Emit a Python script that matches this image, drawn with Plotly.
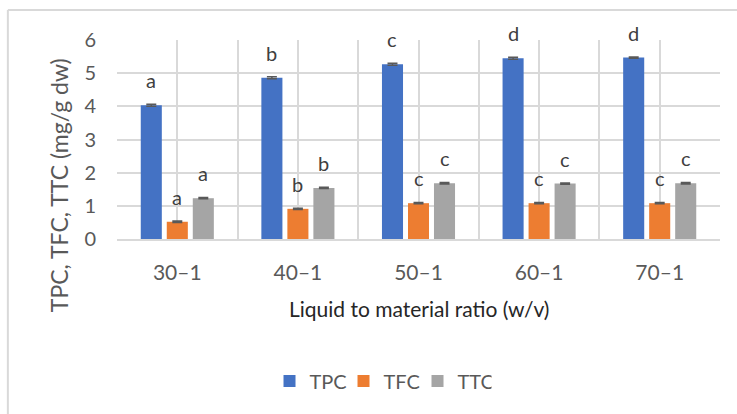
import plotly.graph_objects as go

# Extraction yield by liquid-to-material ratio
categories = ["30–1", "40–1", "50–1", "60–1", "70–1"]
tpc = [4.03, 4.86, 5.27, 5.45, 5.47]
tfc = [0.52, 0.91, 1.08, 1.08, 1.08]
ttc = [1.23, 1.54, 1.68, 1.67, 1.68]
tpc_err = [0.03, 0.03, 0.03, 0.03, 0.02]
tfc_err = [0.02, 0.02, 0.02, 0.02, 0.02]
ttc_err = [0.02, 0.02, 0.02, 0.02, 0.02]
tpc_letters = ["a", "b", "c", "d", "d"]
tfc_letters = ["a", "b", "c", "c", "c"]
ttc_letters = ["a", "b", "c", "c", "c"]

series = [
    ("TPC", tpc, tpc_err, tpc_letters, "#4472C4"),
    ("TFC", tfc, tfc_err, tfc_letters, "#ED7D31"),
    ("TTC", ttc, ttc_err, ttc_letters, "#A5A5A5"),
]

FONT = "Lato"
TEXT = "#595959"
GRID = "#D9D9D9"
BARGAP = 0.353
GROUPGAP = 0.19

xpos = list(range(len(categories)))
slot = (1 - BARGAP) / len(series)

fig = go.Figure()
annotations = []
for k, (name, vals, errs, letters, color) in enumerate(series):
    fig.add_trace(go.Bar(
        name=name, x=xpos, y=vals, marker_color=color, marker_line_width=0,
        error_y=dict(type="data", array=errs, visible=True,
                     color="#595959", thickness=1.5, width=5),
    ))
    # significance letters sit just above each bar of the group
    off = (k - (len(series) - 1) / 2) * slot
    for i, (v, lab) in enumerate(zip(vals, letters)):
        annotations.append(dict(
            x=i + off, y=v, xref="x", yref="y", text=lab, showarrow=False,
            yanchor="middle", yshift=25,
            font=dict(family=FONT, size=20, color="#404040")))

# Axis titles
annotations.append(dict(
    x=-0.096, y=0.271, xref="paper", yref="paper",
    text="TPC, TFC, TTC (mg/g dw)", textangle=-90, showarrow=False,
    xanchor="center", yanchor="middle",
    font=dict(family=FONT, size=23, color=TEXT)))
annotations.append(dict(
    x=0.5, y=-0.347, xref="paper", yref="paper",
    text="Liquid to material ratio (w/v)", showarrow=False,
    xanchor="center", yanchor="middle",
    font=dict(family=FONT, size=21, color="#262626")))

fig.update_layout(
    width=737, height=414,
    margin=dict(l=117, r=17, t=40, b=175),
    paper_bgcolor="white", plot_bgcolor="white",
    barmode="group", bargap=BARGAP, bargroupgap=GROUPGAP,
    font=dict(family=FONT, size=18, color=TEXT),
    annotations=annotations,
    showlegend=True,
    legend=dict(orientation="h", x=0.437, y=-0.713, xanchor="center",
                yanchor="middle", font=dict(family=FONT, size=20, color=TEXT),
                itemwidth=30, traceorder="normal",
                entrywidth=29, entrywidthmode="pixels"),
    # chart-area frame (top and left edges)
    shapes=[
        dict(type="line", xref="paper", yref="paper", x0=-0.181, x1=1.05,
             y0=1.151, y1=1.151, line=dict(color=GRID, width=2)),
        dict(type="line", xref="paper", yref="paper", x0=-0.181, x1=-0.181,
             y0=1.151, y1=-0.9, line=dict(color=GRID, width=2)),
    ],
)

fig.update_xaxes(
    range=[-0.5, len(categories) - 0.5],
    tickvals=xpos, ticktext=categories,
    showgrid=True, gridcolor=GRID, gridwidth=1.5,
    minor=dict(tickvals=[i - 0.5 for i in range(len(categories) + 1)],
               showgrid=True, gridcolor=GRID, gridwidth=1.5, ticklen=0),
    ticks="", ticklabelstandoff=14,
    showline=True, linecolor=GRID, linewidth=1.5, zeroline=False,
    tickfont=dict(family=FONT, size=21, color=TEXT),
)
fig.update_yaxes(
    range=[0, 6], dtick=1, showgrid=True, gridcolor=GRID, gridwidth=1.5,
    zeroline=False, ticks="", ticklabelstandoff=20,
    tickfont=dict(family=FONT, size=20, color=TEXT),
)

fig.write_html("out.html")
